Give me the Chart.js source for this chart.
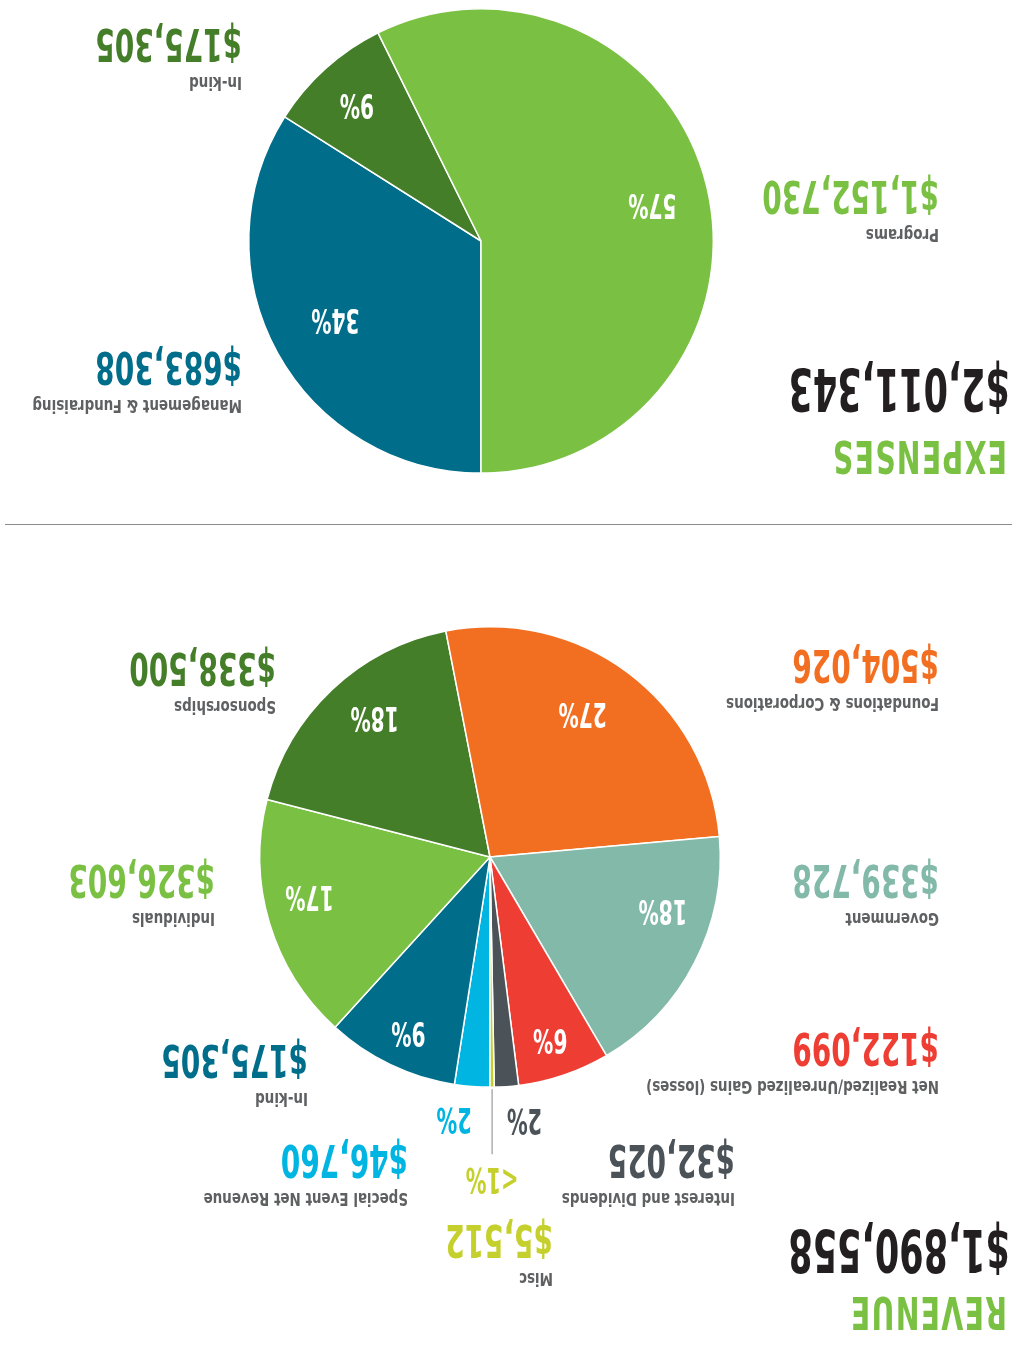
<!DOCTYPE html>
<html lang="en">
<head>
<meta charset="UTF-8">
<title>Revenue and Expenses</title>
<script src="https://cdn.jsdelivr.net/npm/chart.js"></script>
<style>
  body { margin: 0; background: #fff; }
  #page {
    position: absolute; left: 0; top: 0;
    width: 1019px; height: 1354px; overflow: hidden;
    transform: rotate(180deg); transform-origin: 50% 50%;
    font-family: "DejaVu Sans Condensed", "DejaVu Sans", sans-serif;
    font-weight: bold;
  }
  .txt { position: absolute; white-space: nowrap; line-height: 1; transform-origin: 0 0; }
  .name { color: #5f6062; transform: scaleX(.88); }
  .amt { transform: scaleX(.69); }
  .title { color: #7ac143; transform: scaleX(.7); letter-spacing: 1.8px; }
  .total { color: #231f20; transform: scaleX(.66); }
  .rule { position: absolute; left: 7px; top: 829px; width: 1007px; height: 1px; background: #8c8c8c; }
  canvas { position: absolute; left: 0; }
</style>
</head>
<body>
<div id="page">
  <canvas id="revenue" style="top:0"></canvas>
  <div class="rule"></div>
  <canvas id="expenses" style="top:830px"></canvas>
</div>
<script>
// revenue, in drawing order (clockwise from 12 o'clock)
const revenueLabels = ['Special Event Net Revenue', 'In-kind', 'Individuals', 'Sponsorships',
  'Foundations & Corporations', 'Government', 'Net Realized/Unrealized Gains (losses)',
  'Interest and Dividends', 'Misc'];
const revenueValues = [46760, 175305, 326603, 338500, 504026, 339728, 122099, 32025, 5512];
const revenueColors = ['#00b5e1', '#006e8a', '#7ac143', '#457e29', '#f26f22', '#82b9a8', '#ee3e33', '#4b5258', '#c5d02d'];

// expenses
const expenseLabels = ['Management & Fundraising', 'In-kind', 'Programs'];
const expenseValues = [683308, 175305, 1152730];
const expenseColors = ['#006e8a', '#457e29', '#7ac143'];

// where each callout sits: [left, top of name line]
const revenueCallouts = [[611, 149], [711, 249], [804, 429], [743, 641], [80, 644], [80, 429], [80, 261], [284, 149], [466, 69]];
const expenseCallouts = [[777, 942], [777, 1265], [80, 1113]];
// small hand nudges of the % labels away from the slice centroid
const revenuePctShift = [[0, 0], [2, -8], [4, 15], [-11, 7], [18, -2], [-9, 33], [-1, -6], [0, 0], [0, 0]];
const expensePctShift = [[-5, 6], [9, 10], [-4, -1]];

const page = document.getElementById('page');
const sizes = { name: 17, amt: 45, title: 45, total: 59 };

function money(v) { return '$' + v.toLocaleString('en-US'); }
function sum(a) { return a.reduce((s, v) => s + v, 0); }

function place(text, cls, x, capTop, color) {
  const el = document.createElement('div');
  el.className = 'txt ' + cls;
  el.textContent = text;
  el.style.fontSize = sizes[cls] + 'px';
  el.style.left = x + 'px';
  el.style.top = (capTop - 0.117 * sizes[cls]) + 'px';
  if (color) el.style.color = color;
  page.appendChild(el);
}

function callouts(labels, values, colors, spots) {
  labels.forEach((lab, i) => {
    const [x, y] = spots[i];
    place(lab, 'name', x, y);
    place(money(values[i]), 'amt', x, y + 27, colors[i]);
  });
}

place('REVENUE', 'title', 12, 24);
place(money(sum(revenueValues)), 'total', 9, 81);
place('EXPENSES', 'title', 12, 880);
place(money(sum(expenseValues)), 'total', 9, 942);
callouts(revenueLabels, revenueValues, revenueColors, revenueCallouts);
callouts(expenseLabels, expenseValues, expenseColors, expenseCallouts);

// percentage labels inside slices, small ones outside
const pctLabels = {
  id: 'pctLabels',
  afterDatasetsDraw(chart, args, opts) {
    const ctx = chart.ctx;
    const ds = chart.data.datasets[0];
    const total = sum(ds.data);
    chart.getDatasetMeta(0).data.forEach((arc, i) => {
      const share = ds.data[i] / total * 100;
      const text = share < 1 ? '<1%' : Math.round(share) + '%';
      const mid = (arc.startAngle + arc.endAngle) / 2;
      const shift = opts.shift[i];
      let x, y;
      ctx.save();
      ctx.textAlign = 'center';
      ctx.textBaseline = 'middle';
      if (share >= 3) {
        const r = arc.outerRadius * opts.inside;
        x = arc.x + Math.cos(mid) * r + shift[0];
        y = arc.y + Math.sin(mid) * r + shift[1];
        ctx.fillStyle = '#fff';
        ctx.font = 'bold 34px "DejaVu Sans Condensed"';
      } else {
        const ex = arc.x + Math.cos(mid) * arc.outerRadius;
        const ey = arc.y + Math.sin(mid) * arc.outerRadius;
        if (share < 1) {
          ctx.strokeStyle = '#9a9a9a';
          ctx.lineWidth = 1.2;
          ctx.beginPath();
          ctx.moveTo(ex, ey - 2);
          ctx.lineTo(ex, ey - 67);
          ctx.stroke();
          x = ex; y = ey - 90;
        } else {
          x = ex + Math.sign(Math.cos(mid)) * 18;
          y = ey - 31;
        }
        ctx.fillStyle = ds.backgroundColor[i];
        ctx.font = 'bold 35px "DejaVu Sans Condensed"';
      }
      ctx.translate(x, y);
      ctx.scale(0.66, 1);
      ctx.fillText(text, 0, 0);
      ctx.restore();
    });
  }
};

function pie(id, w, h, labels, values, colors, padding, inside, shift) {
  const cv = document.getElementById(id);
  cv.width = w; cv.height = h;
  cv.style.width = w + 'px'; cv.style.height = h + 'px';
  return new Chart(cv, {
    type: 'pie',
    data: {
      labels: labels,
      datasets: [{ data: values, backgroundColor: colors, borderColor: '#fff', borderWidth: 1.5 }]
    },
    options: {
      responsive: false,
      animation: false,
      layout: { padding: padding },
      plugins: {
        legend: { display: false },
        tooltip: { enabled: false },
        pctLabels: { inside: inside, shift: shift }
      }
    },
    plugins: [pctLabels]
  });
}

pie('revenue', 1019, 829, revenueLabels, revenueValues, revenueColors,
  { left: 298, right: 259, top: 266, bottom: 101 }, 0.8, revenuePctShift);
pie('expenses', 1019, 524, expenseLabels, expenseValues, expenseColors,
  { left: 305, right: 248, top: 50, bottom: 8 }, 0.74, expensePctShift);
</script>
</body>
</html>
